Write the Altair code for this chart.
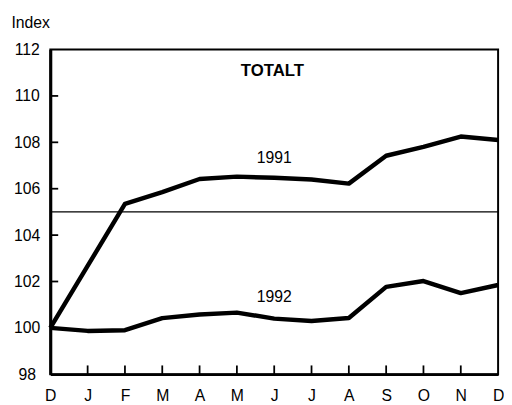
import json
import altair as alt
import pandas as pd

months = ["D", "J", "F", "M", "A", "M", "J", "J", "A", "S", "O", "N", "D"]
v1991 = [100.0, 102.67, 105.35, 105.85, 106.42, 106.52, 106.47, 106.4, 106.22, 107.42, 107.8, 108.25, 108.1]
v1992 = [100.0, 99.87, 99.9, 100.42, 100.58, 100.66, 100.4, 100.3, 100.43, 101.77, 102.02, 101.5, 101.85]
ref_value = 105
y_ticks = [98, 100, 102, 104, 106, 108, 110, 112]
series_labels = [("1991", 6, 107.3), ("1992", 6, 101.33)]
title_label = ("TOTALT", 5.95, 111.08)

FONT = "Liberation Sans"

rows = []
for i, v in enumerate(v1991):
    rows.append({"idx": i, "val": v, "year": "1991"})
for i, v in enumerate(v1992):
    rows.append({"idx": i, "val": v, "year": "1992"})
df = pd.DataFrame(rows)

xscale = alt.Scale(domain=[0, len(months) - 1], nice=False, zero=False)
yscale = alt.Scale(domain=[y_ticks[0], y_ticks[-1]], nice=False, zero=False)

label_expr = json.dumps(months) + "[datum.value]"

x_axis = alt.Axis(
    values=list(range(len(months))), labelExpr=label_expr, ticks=False, tickSize=0,
    grid=False, domainColor="black", domainWidth=2.5, labelFont=FONT, labelFontSize=16,
    labelColor="black", labelPadding=14, labelFlush=False, labelOverlap=False, title=None,
)
y_axis = alt.Axis(
    values=y_ticks, ticks=False, tickSize=0, grid=False, domainColor="black",
    domainWidth=3, labelFont=FONT, labelFontSize=16, labelColor="black",
    labelAlign="center", labelPadding=24, labelFlush=False, labelOverlap=False,
    title="Index", titleX=-40, titleY=-22, titleAngle=0, titleAlign="left",
    titleBaseline="alphabetic", titleFont=FONT, titleFontSize=16,
    titleFontWeight="normal", titleColor="black",
)

lines = alt.Chart(df).mark_line(color="black", strokeWidth=4.5, strokeJoin="round").encode(
    x=alt.X("idx:Q", scale=xscale, axis=x_axis),
    y=alt.Y("val:Q", scale=yscale, axis=y_axis),
    detail="year:N",
)

ref = alt.Chart(pd.DataFrame({"val": [ref_value]})).mark_rule(color="black", strokeWidth=1.3).encode(
    y=alt.Y("val:Q", scale=yscale, axis=y_axis),
)

xt = alt.Chart(pd.DataFrame({"idx": list(range(1, len(months) - 1))})).mark_rule(
    color="black", strokeWidth=1.8
).encode(
    x=alt.X("idx:Q", scale=xscale, axis=x_axis),
    y=alt.value(321),
    y2=alt.value(330),
)

yt = alt.Chart(pd.DataFrame({"val": y_ticks[1:-1]})).mark_rule(
    color="black", strokeWidth=1.8
).encode(
    y=alt.Y("val:Q", scale=yscale, axis=y_axis),
    x=alt.value(0),
    x2=alt.value(8),
)

lab_df = pd.DataFrame([{"text": t, "idx": i, "val": v} for t, i, v in series_labels])
labels = alt.Chart(lab_df).mark_text(
    font=FONT, fontSize=16, color="black", align="center", baseline="middle"
).encode(
    x=alt.X("idx:Q", scale=xscale, axis=x_axis),
    y=alt.Y("val:Q", scale=yscale, axis=y_axis),
    text="text:N",
)

tt_df = pd.DataFrame([{"text": title_label[0], "idx": title_label[1], "val": title_label[2]}])
ttl = alt.Chart(tt_df).mark_text(
    font=FONT, fontSize=17, fontWeight="bold", color="black", align="center", baseline="middle"
).encode(
    x=alt.X("idx:Q", scale=xscale, axis=x_axis),
    y=alt.Y("val:Q", scale=yscale, axis=y_axis),
    text="text:N",
)

chart = alt.layer(lines, ref, xt, yt, labels, ttl).properties(
    width=455,
    height=330,
    autosize=alt.AutoSizeParams(type="none"),
    padding={"left": 43, "top": 39, "right": 6, "bottom": 28},
    background="white",
).configure_view(
    stroke="black", strokeWidth=2
).configure_axis(
    labelOverlap=False, labelFlush=False
)

chart.save("out.html", embed_options={"renderer": "svg", "actions": False})
